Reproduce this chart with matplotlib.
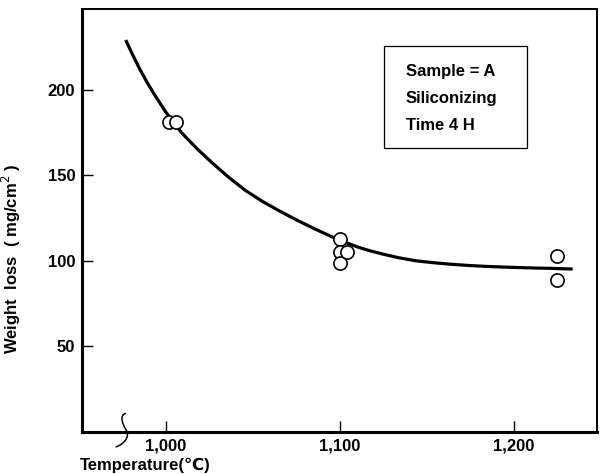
import matplotlib.pyplot as plt
from matplotlib.path import Path
from matplotlib.patches import PathPatch, Rectangle

plt.rcParams['font.family'] = ['Liberation Sans', 'DejaVu Sans']

# measured points
temp_pts = [1002, 1006, 1100, 1100, 1100, 1104, 1225, 1225]
loss_pts = [181, 181, 113, 105, 99, 105, 103, 89]

# hand drawn trend curve
curve_t = [977, 981, 985, 989, 993, 1000, 1009, 1018, 1027, 1036, 1046, 1056,
           1066, 1075, 1085, 1095, 1102, 1110, 1117, 1125, 1134, 1144, 1154,
           1164, 1174, 1183, 1193, 1202, 1212, 1221, 1234]
curve_w = [229, 220.4, 212.2, 204.8, 198, 187, 175, 165.5, 157, 149, 141, 134.5,
           128.8, 124, 119, 114.3, 111.3, 108.2, 106, 103.9, 101.8, 100, 98.9,
           98, 97.3, 96.8, 96.4, 96.1, 95.8, 95.6, 95.2]

xticks = [1000, 1100, 1200]
xticklabels = ['1,000', '1,100', '1,200']
yticks = [50, 100, 150, 200]
info_lines = ['Sample = A', 'Siliconizing', 'Time 4 H']

fig = plt.figure(figsize=(6, 4.74), dpi=100)
ax = fig.add_axes([0.137, 0.0886, 0.858, 0.892])

ax.plot(curve_t, curve_w, color='black', lw=2.3, solid_capstyle='butt',
        solid_joinstyle='round', zorder=2)
ax.plot(temp_pts, loss_pts, 'o', ms=9.5, mfc='white', mec='black', mew=1.2,
        linestyle='none', zorder=3)

ax.set_xlim(952, 1248)
ax.set_ylim(0, 247)
ax.set_xticks(xticks)
ax.set_xticklabels(xticklabels)
ax.set_yticks(yticks)

ax.tick_params(direction='in', length=8, width=1.0, labelsize=12, pad=5)
for lab in ax.get_xticklabels() + ax.get_yticklabels():
    lab.set_fontweight('bold')

ax.spines['left'].set_linewidth(2.2)
ax.spines['bottom'].set_linewidth(2.2)
ax.spines['top'].set_linewidth(1.4)
ax.spines['right'].set_linewidth(1.4)

ax.set_ylabel('Weight  loss  ( mg/cm$^{2}$ )', fontsize=12, fontweight='bold')
ax.yaxis.set_label_coords(-0.115, 0.41)
ax.set_xlabel('Temperature(\u2103)', fontsize=12, fontweight='bold')
ax.xaxis.set_label_coords(0.122, -0.062)

# axis break mark
verts = [(0.0849, 0.0442), (0.0719, 0.0402), (0.0777, 0.0189), (0.0854, 0.0047),
         (0.0932, -0.0118), (0.0816, -0.0284), (0.0650, -0.0355)]
codes = [Path.MOVETO] + [Path.CURVE4] * 6
ax.add_patch(PathPatch(Path(verts, codes), transform=ax.transAxes, fill=False,
                       lw=1.1, color='black', clip_on=False, zorder=5))

# info box
ax.add_patch(Rectangle((0.586, 0.671), 0.278, 0.2415, transform=ax.transAxes,
                       fill=False, lw=0.9, color='black'))
for i, line in enumerate(info_lines):
    ax.text(0.629, 0.853 - i * 0.0635, line, transform=ax.transAxes,
            fontsize=12, fontweight='bold', va='center', ha='left')

fig.savefig('out.png', dpi=100)
